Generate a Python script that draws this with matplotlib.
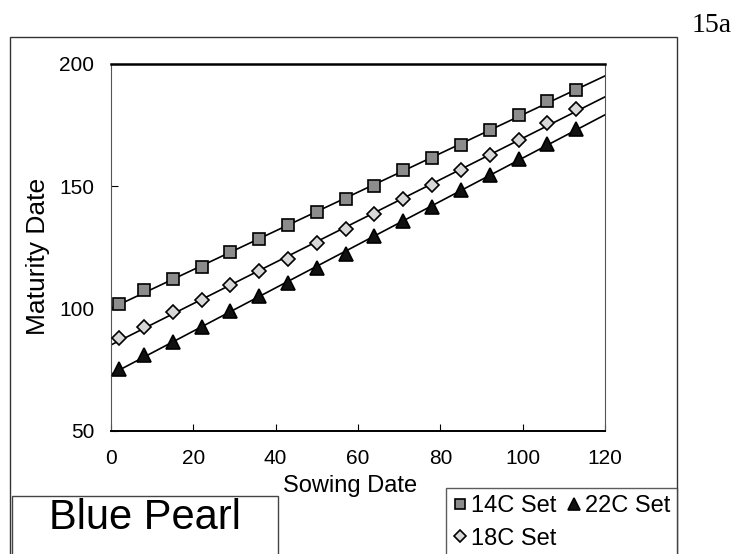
import numpy as np
import matplotlib
matplotlib.use("Agg")
import matplotlib.pyplot as plt
from matplotlib.patches import Rectangle

plt.rcParams['font.family'] = ['Liberation Sans', 'DejaVu Sans']

# sowing dates (days) and maturity dates
sowing = [2, 8, 15, 22, 29, 36, 43, 50, 57, 64, 71, 78, 85, 92, 99, 106, 113]
set14 = [102, 107.5, 112, 117, 123, 128.5, 134, 139.5, 145, 150, 156.5, 161.5, 167, 173, 179, 185, 189.5]
set18 = [88, 92.5, 98.5, 103.5, 109.5, 115.5, 120.5, 127, 132.5, 138.5, 145, 150.5, 156.5, 163, 169, 176, 181.5]
set22 = [75.5, 81, 86.5, 92.5, 99, 105, 110.5, 116.5, 122.5, 129.5, 136, 141.5, 148.5, 154.5, 161, 167.5, 173.5]
labels = ['14C Set', '18C Set', '22C Set']

W, H = 737, 554
fig = plt.figure(figsize=(W / 100, H / 100), dpi=100)
ax = fig.add_axes([111 / W, 1 - 431 / H, (605 - 111) / W, (431 - 64) / H])

styles = [
    dict(marker='s', markersize=9, markerfacecolor='#8c8c8c'),
    dict(marker='D', markersize=7.5, markerfacecolor='#d8d8d8'),
    dict(marker='^', markersize=10, markerfacecolor='#111111'),
]
xfit = np.array([0, 120])
handles = []
for ys, st, lab in zip([set14, set18, set22], styles, labels):
    k, b = np.polyfit(sowing, ys, 1)
    ax.plot(xfit, k * xfit + b, color='black', lw=1.2, zorder=2)
    h, = ax.plot(sowing, ys, ls='none', markeredgecolor='black',
                 markeredgewidth=1.2, label=lab, zorder=3, **st)
    handles.append(h)

ax.set_xlim(0, 120)
ax.set_ylim(50, 200)
ax.set_xticks([0, 20, 40, 60, 80, 100, 120])
ax.set_yticks([50, 100, 150, 200])
ax.tick_params(direction='in', length=5, labelsize=15, width=0.8)
ax.tick_params(axis='x', pad=13)
ax.tick_params(axis='y', pad=12)
ax.spines['top'].set_linewidth(1.8)
ax.spines['bottom'].set_linewidth(1.4)
ax.spines['left'].set_color('#555555')
ax.spines['left'].set_linewidth(0.8)
ax.spines['right'].set_color('#555555')
ax.spines['right'].set_linewidth(0.8)

fig.text(38 / W, 1 - 256 / H, 'Maturity Date', rotation=90,
         ha='center', va='center', fontsize=19)
fig.text(350 / W, 1 - 486 / H, 'Sowing Date', ha='center', va='center', fontsize=17)
fig.text(712 / W, 1 - 25 / H, '15a', ha='center', va='center', fontsize=20,
         family='Liberation Serif')

# outer frame and the variety box
fig.patches.append(Rectangle((10 / W, -0.05), (677 - 10) / W, 1 - 37 / H + 0.05,
                             transform=fig.transFigure, fill=False,
                             edgecolor='#333333', lw=1.0))
fig.patches.append(Rectangle((12 / W, -0.05), (278 - 12) / W, 1 - 496 / H + 0.05,
                             transform=fig.transFigure, fill=False,
                             edgecolor='#444444', lw=1.0))
fig.text(145 / W, 1 - 518 / H, 'Blue Pearl', ha='center', va='center', fontsize=30)

leg = fig.legend(handles=handles, ncol=2, loc='upper right',
                 bbox_to_anchor=(677 / W, 1 - 488 / H), fontsize=17,
                 frameon=True, fancybox=False, borderpad=0.3,
                 handlelength=0.6, handletextpad=0.15, columnspacing=0.45,
                 labelspacing=0.45, borderaxespad=0, markerscale=0.85)
leg.get_frame().set_edgecolor('#333333')
leg.get_frame().set_linewidth(1.0)

fig.savefig('out.png', dpi=100)
